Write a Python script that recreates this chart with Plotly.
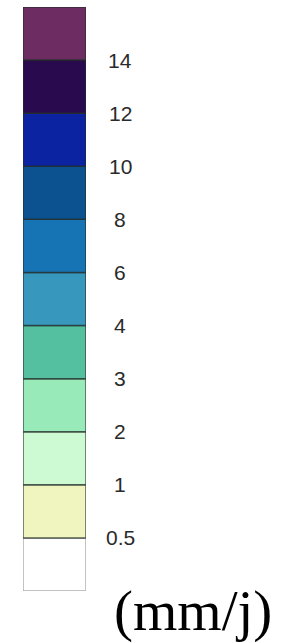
import plotly.graph_objects as go

# Colour bins (bottom to top) and their boundary labels
bin_lower = [0, 1, 2, 3, 4, 5, 6, 7, 8, 9, 10]
bin_colors = ["#ffffff", "#f0f5c0", "#cdfad2", "#98eab8", "#55c0a0",
              "#3897bd", "#1673b4", "#0d5290", "#0b23a0", "#2a0a4f", "#6e2d62"]
tick_labels = ["0.5", "1", "2", "3", "4", "6", "8", "10", "12", "14"]
unit_label = "(mm/j)"

line_colors = ["#b0b0b0"] + ["rgba(35,45,40,0.75)"] * (len(bin_colors) - 1)

fig = go.Figure()
fig.add_trace(go.Bar(
    x=[0] * len(bin_lower),
    y=[1] * len(bin_lower),
    base=bin_lower,
    width=1,
    marker=dict(color=bin_colors, line=dict(color=line_colors, width=1.5)),
    hoverinfo="skip",
    showlegend=False,
))

annotations = []
for i, lab in enumerate(tick_labels, start=1):
    annotations.append(dict(
        x=1.54, xref="paper", y=i, yref="y", text=lab, showarrow=False,
        xanchor="center", yanchor="middle",
        font=dict(family="Liberation Sans, Arial, sans-serif", size=21, color="#2a2a2a"),
    ))
annotations.append(dict(
    x=2.70, xref="paper", y=-0.035, yref="paper", text=unit_label, showarrow=False,
    xanchor="center", yanchor="middle",
    font=dict(family="Liberation Serif, Times New Roman, serif", size=57, color="#000000"),
))

fig.update_layout(
    width=286, height=643,
    margin=dict(l=23, r=200, t=7, b=52),
    paper_bgcolor="white", plot_bgcolor="white",
    barmode="overlay",
    xaxis=dict(range=[-0.5, 0.5], visible=False, fixedrange=True),
    yaxis=dict(range=[0, len(bin_lower)], visible=False, fixedrange=True),
    annotations=annotations,
)

fig.write_html("out.html", config={"displayModeBar": False},
               post_script="document.body.style.margin='0';")
